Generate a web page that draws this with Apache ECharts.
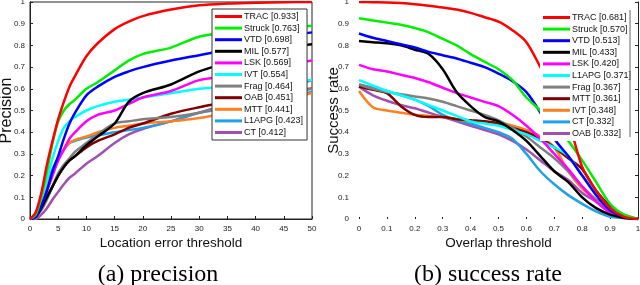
<!DOCTYPE html>
<html><head><meta charset="utf-8">
<script src="https://cdn.jsdelivr.net/npm/echarts@6/dist/echarts.min.js"></script>
<style>html,body{margin:0;padding:0;background:#fff}#c{width:640px;height:285px}</style>
</head><body><div id="c"></div>
<script>
// ---- Data ----
const colors = ['#ff0000','#00ee00','#0000ff','#000000','#ff00ff','#00ffff','#808080','#800000','#ff8020','#20a0e8','#a050b0'];

const precX = [0,1,2,3,4,5,6,7,8,10,12,15,17.5,20,25,30,35,40,45,50];
const precNames = ['TRAC [0.933]','Struck [0.763]','VTD [0.698]','MIL [0.577]','LSK [0.569]','IVT [0.554]','Frag [0.464]','OAB [0.451]','MTT [0.441]','L1APG [0.423]','CT [0.412]'];
const precTRAC   = [0,0.03,0.12,0.25,0.36,0.46,0.54,0.61,0.66,0.75,0.81,0.875,0.91,0.935,0.965,0.985,0.993,0.997,0.999,1.0];
const precStruck = [0,0.02,0.10,0.22,0.35,0.45,0.50,0.53,0.55,0.60,0.63,0.685,0.73,0.76,0.79,0.84,0.86,0.87,0.88,0.89];
const precVTD    = [0,0.01,0.06,0.13,0.22,0.29,0.37,0.44,0.49,0.57,0.61,0.655,0.68,0.70,0.73,0.755,0.78,0.81,0.84,0.86];
const precMIL    = [0,0.01,0.05,0.10,0.15,0.20,0.24,0.27,0.29,0.34,0.38,0.44,0.54,0.58,0.62,0.68,0.72,0.76,0.79,0.805];
const precLSK    = [0,0.01,0.06,0.13,0.20,0.27,0.32,0.37,0.40,0.45,0.48,0.50,0.53,0.56,0.59,0.64,0.66,0.69,0.71,0.73];
const precIVT    = [0,0.02,0.09,0.18,0.28,0.36,0.42,0.45,0.47,0.50,0.52,0.54,0.55,0.56,0.58,0.60,0.61,0.62,0.63,0.64];
const precFrag   = [0,0.01,0.04,0.09,0.15,0.21,0.25,0.28,0.31,0.35,0.39,0.44,0.45,0.46,0.47,0.49,0.52,0.55,0.58,0.60];
const precOAB    = [0,0.01,0.05,0.10,0.15,0.20,0.24,0.27,0.29,0.33,0.36,0.39,0.42,0.44,0.485,0.515,0.54,0.57,0.59,0.60];
const precMTT    = [0,0.02,0.08,0.15,0.22,0.27,0.32,0.35,0.365,0.38,0.40,0.42,0.43,0.44,0.45,0.465,0.49,0.52,0.55,0.58];
const precL1APG  = [0,0.02,0.08,0.16,0.23,0.28,0.32,0.35,0.36,0.375,0.385,0.40,0.41,0.42,0.45,0.49,0.51,0.54,0.56,0.585];
const precCT     = [0,0,0.02,0.05,0.09,0.125,0.16,0.19,0.21,0.255,0.29,0.35,0.39,0.415,0.45,0.49,0.53,0.57,0.60,0.64];
const precSeries = [precTRAC,precStruck,precVTD,precMIL,precLSK,precIVT,precFrag,precOAB,precMTT,precL1APG,precCT];

const succX = [0,0.05,0.1,0.15,0.2,0.25,0.3,0.35,0.4,0.45,0.5,0.55,0.6,0.65,0.7,0.75,0.8,0.85,0.9,0.95,1.0];
const succNames = ['TRAC [0.681]','Struck [0.570]','VTD [0.513]','MIL [0.433]','LSK [0.420]','L1APG [0.371]','Frag [0.367]','MTT [0.361]','IVT [0.348]','CT [0.332]','OAB [0.332]'];
const succTRAC   = [1.0,0.999,0.998,0.995,0.99,0.983,0.975,0.965,0.95,0.93,0.91,0.87,0.815,0.70,0.58,0.45,0.24,0.13,0.05,0.01,0];
const succStruck = [0.925,0.915,0.905,0.895,0.88,0.86,0.83,0.80,0.76,0.725,0.69,0.64,0.56,0.50,0.43,0.36,0.27,0.17,0.07,0.02,0];
const succVTD    = [0.855,0.835,0.82,0.805,0.79,0.77,0.755,0.74,0.72,0.70,0.67,0.635,0.585,0.49,0.37,0.29,0.20,0.11,0.04,0.01,0];
const succMIL    = [0.82,0.815,0.81,0.80,0.78,0.76,0.69,0.585,0.52,0.47,0.45,0.41,0.36,0.29,0.22,0.17,0.10,0.05,0.02,0.005,0];
const succLSK    = [0.71,0.69,0.68,0.665,0.65,0.63,0.605,0.58,0.56,0.54,0.52,0.48,0.43,0.37,0.30,0.23,0.15,0.08,0.03,0.01,0];
const succL1APG  = [0.64,0.615,0.59,0.57,0.55,0.525,0.50,0.475,0.45,0.44,0.43,0.41,0.39,0.36,0.33,0.29,0.20,0.12,0.05,0.01,0];
const succFrag   = [0.62,0.60,0.585,0.575,0.565,0.555,0.54,0.52,0.50,0.48,0.455,0.42,0.38,0.33,0.28,0.22,0.15,0.09,0.05,0.01,0];
const succMTT    = [0.61,0.595,0.58,0.52,0.48,0.47,0.47,0.46,0.455,0.45,0.44,0.42,0.40,0.37,0.33,0.28,0.23,0.13,0.06,0.015,0];
const succIVT    = [0.59,0.515,0.50,0.49,0.48,0.475,0.47,0.46,0.45,0.445,0.445,0.43,0.41,0.38,0.33,0.22,0.14,0.09,0.05,0.02,0];
const succCT     = [0.62,0.605,0.59,0.57,0.55,0.52,0.48,0.455,0.44,0.42,0.40,0.37,0.30,0.22,0.16,0.11,0.07,0.035,0.01,0.005,0];
const succOAB    = [0.61,0.57,0.545,0.525,0.51,0.49,0.47,0.45,0.43,0.41,0.39,0.36,0.32,0.27,0.22,0.18,0.12,0.08,0.04,0.01,0];
const succSeries = [succTRAC,succStruck,succVTD,succMIL,succLSK,succL1APG,succFrag,succMTT,succIVT,succCT,succOAB];

// ---- Chart ----
const chart = echarts.init(document.getElementById('c'), null, {renderer:'canvas'});
const tickFont = {fontFamily:'Liberation Sans', fontSize:8, color:'#222'};
const lineAxis = {show:true, lineStyle:{color:'#222', width:1}};

function mkSeries(names, xs, ys, idx){
  return names.map((n,i)=>({
    name:n, type:'line', xAxisIndex:idx, yAxisIndex:idx,
    data: xs.map((x,j)=>[x, ys[i][j]]),
    showSymbol:false, smooth:0.3,
    lineStyle:{color:colors[i], width:2.5}, itemStyle:{color:colors[i]},
    z: 20 - i
  }));
}

const legendCommon = {
  orient:'vertical', icon:'rect', itemWidth:27, itemHeight:3, itemGap:2.6,
  backgroundColor:'#fff', padding:[3,4,3,3],
  textStyle:{fontFamily:'Liberation Sans', fontSize:9, color:'#111', lineHeight:9, padding:[0,0,0,-3]},
  z: 50
};
const capStyle = {fontFamily:'Liberation Serif', fontSize:24, fontWeight:'normal', color:'#000'};
const nameStyleX = {fontFamily:'Liberation Sans', fontSize:13.5, color:'#111'};

chart.setOption({
  animation:false,
  color: colors,
  title:[
    {text:'(a) precision', left:153, top:258, textAlign:'center', textStyle:capStyle},
    {text:'(b) success rate', left:483, top:258, textAlign:'center', textStyle:capStyle}
  ],
  legend:[
    Object.assign({}, legendCommon, {data:precNames, left:212, top:9, borderColor:'#333', borderWidth:1}),
    Object.assign({}, legendCommon, {data:succNames, left:540, top:10, borderWidth:0})
  ],
  grid:[
    {left:30, right:328, top:2, bottom:66, show:true, borderColor:'#222', borderWidth:1, backgroundColor:'#fff', outerBoundsMode:'none', containLabel:false},
    {left:359, right:2, top:2, bottom:66, outerBoundsMode:'none', containLabel:false}
  ],
  xAxis:[
    {type:'value', gridIndex:0, min:0, max:50, interval:5, name:'Location error threshold', nameLocation:'middle', nameGap:17, nameMoveOverlap:false,
     nameTextStyle:nameStyleX,
     axisLine:lineAxis, axisTick:{inside:true, length:3, lineStyle:{color:'#222'}}, axisLabel:Object.assign({margin:6}, tickFont), splitLine:{show:false}},
    {type:'value', gridIndex:1, min:0, max:1, interval:0.1, name:'Overlap threshold', nameLocation:'middle', nameGap:17, nameMoveOverlap:false,
     nameTextStyle:nameStyleX,
     axisLine:{show:false}, axisTick:{inside:true, length:2, lineStyle:{color:'#222'}}, axisLabel:Object.assign({margin:6, formatter:v=>String(+v.toFixed(1))}, tickFont), splitLine:{show:false}}
  ],
  yAxis:[
    {type:'value', gridIndex:0, min:0, max:1, interval:0.1, name:'Precision', nameLocation:'middle', nameGap:15, nameMoveOverlap:false,
     nameTextStyle:{fontFamily:'Liberation Sans', fontSize:16, color:'#111'},
     axisLine:lineAxis, axisTick:{inside:true, length:3, lineStyle:{color:'#222'}}, axisLabel:Object.assign({margin:5, formatter:v=>String(+v.toFixed(1))}, tickFont), splitLine:{show:false}},
    {type:'value', gridIndex:1, min:0, max:1, interval:0.1, name:'Success rate', nameLocation:'middle', nameGap:17.5, nameMoveOverlap:false,
     nameTextStyle:{fontFamily:'Liberation Sans', fontSize:15, color:'#111'},
     axisLine:{show:false}, axisTick:{show:false}, axisLabel:Object.assign({margin:10, formatter:v=>String(+v.toFixed(1))}, tickFont), splitLine:{show:false}},
    {type:'value', gridIndex:1, position:'right', min:0, max:1, interval:0.1,
     axisLine:lineAxis, axisTick:{inside:true, length:3, lineStyle:{color:'#222'}}, axisLabel:{show:false}, splitLine:{show:false}}
  ],
  graphic:[
    {type:'line', shape:{x1:630, y1:10, x2:630, y2:137}, style:{stroke:'#666', lineWidth:1}, z:100}
  ],
  series: mkSeries(precNames, precX, precSeries, 0).concat(mkSeries(succNames, succX, succSeries, 1))
});
</script></body></html>
